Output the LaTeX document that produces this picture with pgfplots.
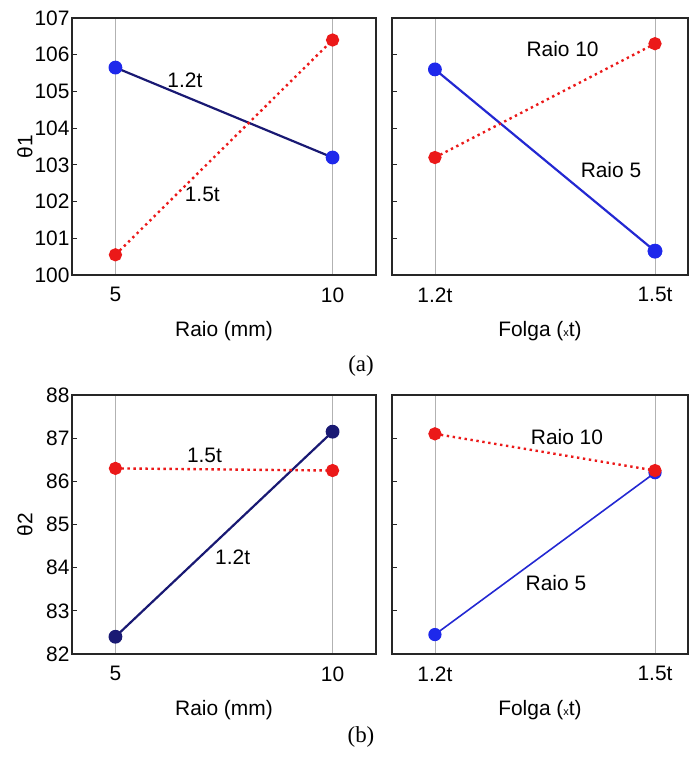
\documentclass[border=0pt]{standalone}
\usepackage{fontspec}
\setmainfont{Liberation Sans}
\newfontfamily\capfont{Liberation Serif}
\usepackage{pgfplots}
\pgfplotsset{compat=1.18}

\definecolor{navy}{RGB}{25,25,115}
\definecolor{mblue}{RGB}{30,40,235}
\definecolor{lblue}{RGB}{35,40,210}
\definecolor{mred}{RGB}{235,25,25}

\tikzset{intext/.style={font=\fontsize{21}{24}\selectfont, text=black}}

\pgfplotsset{
 panel/.style={
  scale only axis, anchor=south west,
  axis line style={black!85, line width=1.3pt},
  tick align=inside, ytick pos=left, xtick pos=bottom,
  major tick length=5bp,
  major tick style={black!85, line width=0.8pt},
  xmajorgrids, grid style={black!30, line width=0.7pt},
  major x tick style={draw=none},
  tick label style={font=\fontsize{21}{24}\selectfont},
  label style={font=\fontsize{21}{24}\selectfont},
  xticklabel style={yshift=-9bp},
  yticklabel style={xshift=1bp},
  xlabel style={anchor=center, at={(axis description cs:0.5,0)}, yshift=-56bp},
  ylabel style={anchor=center, at={(axis description cs:-0.155,0.5)}},
  /pgf/number format/assume math mode=true,
  clip=false,
 },
 leftp/.style={panel, xmin=4, xmax=11, xtick={5,10}, width=304bp},
 rightp/.style={panel, xmin=-0.195, xmax=1.15, xtick={0,1}, xticklabels={1.2t,1.5t}, yticklabels={}, width=296bp},
 navyline/.style={navy, line width=2.2pt, mark=*, mark size=5.8bp, mark options={solid, fill=mblue, draw=mblue}},
 blueline/.style={lblue, line width=2.2pt, mark=*, mark size=5.8bp, mark options={solid, fill=mblue, draw=mblue}},
 redline/.style={mred, line width=2.4pt, dash pattern=on 2.4bp off 3.6bp, mark=*, mark size=5.4bp, mark options={solid, fill=mred, draw=mred}},
}

\begin{document}
\begin{tikzpicture}[x=1bp,y=1bp]
\path[use as bounding box] (0,0) rectangle (692,758);

% ---- (a) left
\begin{axis}[leftp, at={(72bp,483bp)}, height=257bp, ymin=100, ymax=107, ytick={100,...,107}, xlabel={Raio (mm)}, ylabel={θ1}]
\addplot[navyline] coordinates {(5,105.65) (10,103.2)};
\addplot[redline] coordinates {(5,100.55) (10,106.4)};
\node[intext] at (axis cs:6.6,105.3) {1.2t};
\node[intext] at (axis cs:7.0,102.2) {1.5t};
\end{axis}

% ---- (a) right
\begin{axis}[rightp, at={(392bp,483bp)}, height=257bp, ymin=100, ymax=107, ytick={100,...,107}, xlabel={Folga ({\fontsize{11}{11}\selectfont x}t)}]
\addplot[blueline] coordinates {(0,105.6) (1,100.65)};
\addplot[only marks, mark=*, mark size=7.2bp, mark options={fill=mblue, draw=mblue}] coordinates {(1,100.65)};
\addplot[redline] coordinates {(0,103.2) (1,106.3)};
\node[intext] at (axis cs:0.58,106.15) {Raio 10};
\node[intext] at (axis cs:0.80,102.85) {Raio 5};
\end{axis}

% ---- (b) left
\begin{axis}[leftp, at={(72bp,104bp)}, height=259bp, ymin=82, ymax=88, ytick={82,...,88}, xlabel={Raio (mm)}, ylabel={θ2}]
\addplot[navyline, mark options={solid, fill=navy, draw=navy}] coordinates {(5,82.4) (10,87.15)};
\addplot[redline] coordinates {(5,86.3) (10,86.25)};
\node[intext] at (axis cs:7.05,86.6) {1.5t};
\node[intext] at (axis cs:7.7,84.25) {1.2t};
\end{axis}

% ---- (b) right
\begin{axis}[rightp, at={(392bp,104bp)}, height=259bp, ymin=82, ymax=88, ytick={82,...,88}, xlabel={Folga ({\fontsize{11}{11}\selectfont x}t)}]
\addplot[blueline, line width=1.6pt] coordinates {(0,82.45) (1,86.2)};
\addplot[redline] coordinates {(0,87.1) (1,86.25)};
\node[intext] at (axis cs:0.6,87.03) {Raio 10};
\node[intext] at (axis cs:0.55,83.65) {Raio 5};
\end{axis}

\node[font=\capfont\fontsize{23}{26}\selectfont] at (361,392) {(a)};
\node[font=\capfont\fontsize{23}{26}\selectfont] at (361,21) {(b)};
\end{tikzpicture}
\end{document}
